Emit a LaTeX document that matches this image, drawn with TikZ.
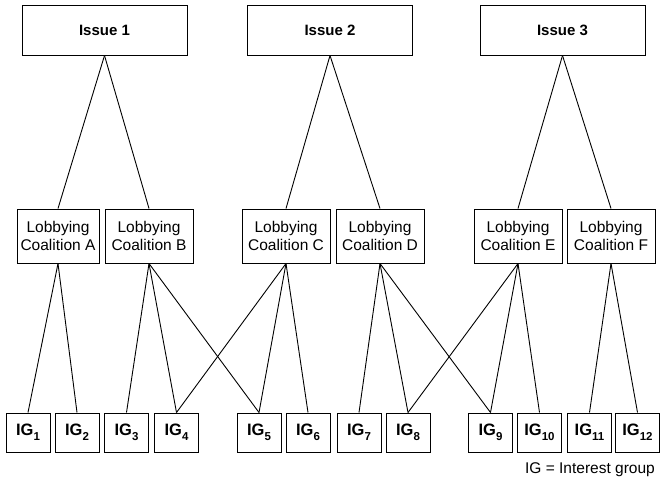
\documentclass[tikz,border=0pt]{standalone}
\usepackage{fontspec}
\setmainfont{Liberation Sans}
\newcommand\igsub[1]{\raisebox{-0.28em}{\fontsize{11.5}{12}\selectfont #1}}
\begin{document}
\begin{tikzpicture}[x=1pt,y=1pt,
 box/.style={draw, line width=1pt, inner sep=0pt},
 issue/.style={box, minimum width=165pt, minimum height=50pt, font=\fontsize{15}{17}\selectfont\bfseries},
 coal/.style={box, minimum width=88pt, minimum height=54pt, align=center, font=\fontsize{15.5}{18}\selectfont},
 ig/.style={box, minimum width=44pt, minimum height=39pt, font=\fontsize{16.5}{18}\selectfont\bfseries},
 link/.style={line width=0.9pt}]
\useasboundingbox (0,0) rectangle (660,-480);
% issues
\node[issue] (i1) at (104.5,-30) {Issue 1};
\node[issue] (i2) at (330,-30) {Issue 2};
\node[issue] (i3) at (562.5,-30) {Issue 3};
% coalitions
\node[coal, minimum width=82pt] (ca) at (58,-236) {Lobbying\\Coalition A};
\node[coal] (cb) at (149,-236) {Lobbying\\Coalition B};
\node[coal] (cc) at (286,-236) {Lobbying\\Coalition C};
\node[coal] (cd) at (380,-236) {Lobbying\\Coalition D};
\node[coal] (ce) at (518,-236) {Lobbying\\Coalition E};
\node[coal] (cf) at (611,-236) {Lobbying\\Coalition F};
% interest groups
\node[ig] (g1) at (28,-432.5) {IG\igsub{1}};
\node[ig] (g2) at (77,-432.5) {IG\igsub{2}};
\node[ig] (g3) at (126.5,-432.5) {IG\igsub{3}};
\node[ig] (g4) at (176.5,-432.5) {IG\igsub{4}};
\node[ig] (g5) at (259,-432.5) {IG\igsub{5}};
\node[ig] (g6) at (308,-432.5) {IG\igsub{6}};
\node[ig] (g7) at (359,-432.5) {IG\igsub{7}};
\node[ig] (g8) at (408,-432.5) {IG\igsub{8}};
\node[ig] (g9) at (490.5,-432.5) {IG\igsub{9}};
\node[ig] (g10) at (539.5,-432.5) {IG\igsub{10}};
\node[ig] (g11) at (589.5,-432.5) {IG\igsub{11}};
\node[ig] (g12) at (637.5,-432.5) {IG\igsub{12}};
% legend
\node[anchor=base east, inner sep=0pt, font=\fontsize{15.5}{18}\selectfont] (leg) at (655,-473) {IG = Interest group};
% links issue -> coalition
\draw[link] (i1.south) -- (ca.north);
\draw[link] (i1.south) -- (cb.north);
\draw[link] (i2.south) -- (cc.north);
\draw[link] (i2.south) -- (cd.north);
\draw[link] (i3.south) -- (ce.north);
\draw[link] (i3.south) -- (cf.north);
% links coalition -> groups
\draw[link] (ca.south) -- (g1.north);
\draw[link] (ca.south) -- (g2.north);
\draw[link] (cb.south) -- (g3.north);
\draw[link] (cb.south) -- (g4.north);
\draw[link] (cb.south) -- (g5.north);
\draw[link] (cc.south) -- (g4.north);
\draw[link] (cc.south) -- (g5.north);
\draw[link] (cc.south) -- (g6.north);
\draw[link] (cd.south) -- (g7.north);
\draw[link] (cd.south) -- (g8.north);
\draw[link] (cd.south) -- (g9.north);
\draw[link] (ce.south) -- (g8.north);
\draw[link] (ce.south) -- (g9.north);
\draw[link] (ce.south) -- (g10.north);
\draw[link] (cf.south) -- (g11.north);
\draw[link] (cf.south) -- (g12.north);
\end{tikzpicture}
\end{document}
